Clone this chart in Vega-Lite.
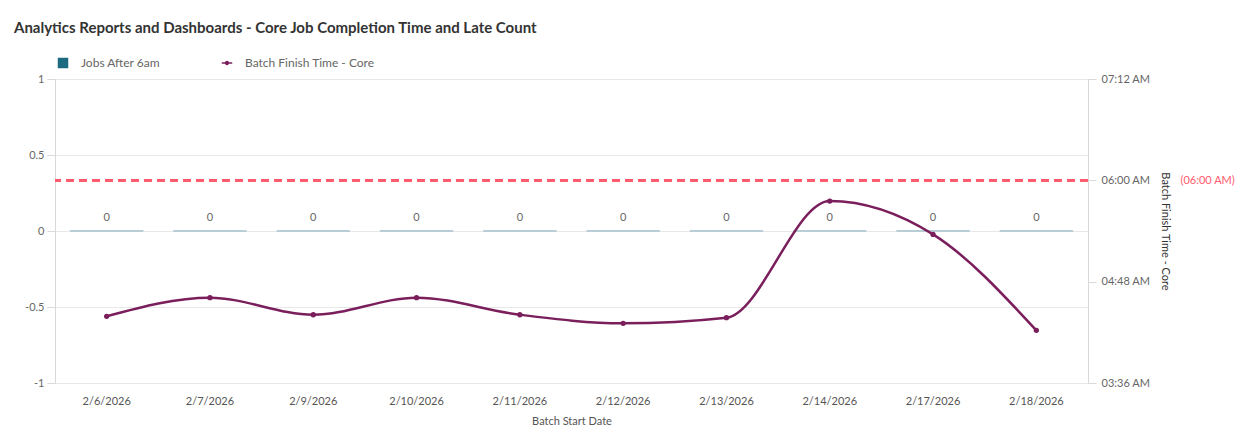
{
  "$schema": "https://vega.github.io/schema/vega-lite/v6.json",
  "width": 1033,
  "height": 304,
  "padding": {"left": 14, "top": 21, "right": 5, "bottom": 5},
  "background": "white",
  "title": {
    "text": "Analytics Reports and Dashboards - Core Job Completion Time and Late Count",
    "anchor": "start",
    "font": "Lato",
    "fontSize": 15,
    "fontWeight": "bold",
    "color": "#333333",
    "offset": 19
  },
  "data": {
    "values": [
      {"date": "2/6/2026", "jobs": 0, "finish_min": 263.4},
      {"date": "2/7/2026", "jobs": 0, "finish_min": 276.6},
      {"date": "2/9/2026", "jobs": 0, "finish_min": 264.5},
      {"date": "2/10/2026", "jobs": 0, "finish_min": 276.6},
      {"date": "2/11/2026", "jobs": 0, "finish_min": 264.5},
      {"date": "2/12/2026", "jobs": 0, "finish_min": 258.4},
      {"date": "2/13/2026", "jobs": 0, "finish_min": 262.4},
      {"date": "2/14/2026", "jobs": 0, "finish_min": 345.3},
      {"date": "2/17/2026", "jobs": 0, "finish_min": 321.6},
      {"date": "2/18/2026", "jobs": 0, "finish_min": 253.4}
    ]
  },
  "layer": [
    {
      "mark": {"type": "bar", "stroke": "#b9cdd6", "strokeWidth": 2},
      "encoding": {
        "x": {
          "field": "date",
          "type": "ordinal",
          "sort": null,
          "scale": {"paddingInner": 0.29, "paddingOuter": 0.145},
          "axis": {
            "title": "Batch Start Date",
            "labelAngle": 0,
            "ticks": false,
            "domain": false,
            "labelPadding": 12,
            "titlePadding": 9,
            "labelFontSize": 11,
            "labelColor": "#555555",
            "titleFontSize": 11,
            "titleFontWeight": "normal",
            "titleColor": "#555555"
          }
        },
        "y": {
          "field": "jobs",
          "type": "quantitative",
          "scale": {"domain": [-1, 1], "nice": false, "zero": false},
          "axis": {
            "title": null,
            "orient": "left",
            "values": [-1, -0.5, 0, 0.5, 1],
            "labelExpr": "'' + datum.value",
            "grid": true,
            "gridColor": "#e8e8e8",
            "domainColor": "#d8d8d8",
            "tickColor": "#d8d8d8",
            "tickSize": 8,
            "labelPadding": 3,
            "labelFontSize": 11,
            "labelColor": "#666666",
            "minExtent": 41
          }
        },
        "color": {
          "datum": "Jobs After 6am",
          "scale": {
            "domain": ["Jobs After 6am", "Batch Finish Time - Core"],
            "range": ["#1b6a80", "#7a1f5c"]
          },
          "legend": {
            "title": null,
            "orient": "top",
            "direction": "horizontal",
            "labelFontSize": 12,
            "labelColor": "#666666",
            "symbolSize": 110,
            "columnPadding": 60,
            "labelOffset": 12,
            "offset": 8,
            "padding": 2,
            "encode": {
              "symbols": {
                "update": {
                  "shape": {"signal": "datum.value === 'Jobs After 6am' ? 'square' : 'M-1,-0.12H-0.35V0.12H-1Z M0.35,-0.12H1V0.12H0.35Z M-0.42,0A0.42,0.42 0 1,1 0.42,0A0.42,0.42 0 1,1 -0.42,0Z'"},
                  "fill": {"signal": "datum.value === 'Jobs After 6am' ? '#1b6a80' : '#7a1f5c'"},
                  "stroke": {"value": "transparent"},
                  "strokeWidth": {"value": 0},
                  "opacity": {"value": 1}
                }
              }
            }
          }
        }
      }
    },
    {
      "mark": {"type": "text", "dy": -13, "fontSize": 11, "color": "#666666", "font": "Lato"},
      "encoding": {
        "x": {"field": "date", "type": "ordinal", "sort": null},
        "y": {
          "field": "jobs",
          "type": "quantitative",
          "scale": {"domain": [-1, 1], "nice": false, "zero": false},
          "axis": null
        },
        "text": {"field": "jobs", "type": "quantitative"}
      }
    },
    {
      "mark": {
        "type": "line",
        "interpolate": "monotone",
        "strokeWidth": 2.5,
        "point": {"filled": true, "size": 28}
      },
      "encoding": {
        "x": {"field": "date", "type": "ordinal", "sort": null},
        "y": {
          "field": "finish_min",
          "type": "quantitative",
          "scale": {"domain": [216, 432], "nice": false, "zero": false},
          "axis": {
            "title": "Batch Finish Time - Core",
            "orient": "right",
            "values": [216, 288, 360, 432],
            "labelExpr": "(floor(datum.value/60) < 10 ? '0' : '') + floor(datum.value/60) + ':' + (datum.value % 60 < 10 ? '0' : '') + (datum.value % 60) + ' AM'",
            "grid": false,
            "domainColor": "#d8d8d8",
            "tickColor": "#d8d8d8",
            "tickSize": 8,
            "labelPadding": 5,
            "labelFontSize": 11,
            "labelColor": "#666666",
            "titleFontSize": 11,
            "titleFontWeight": "normal",
            "titleColor": "#333333",
            "titlePadding": 10
          }
        },
        "color": {
          "datum": "Batch Finish Time - Core",
          "legend": {
            "title": null,
            "orient": "top",
            "direction": "horizontal",
            "labelFontSize": 12,
            "labelColor": "#666666",
            "symbolSize": 110,
            "columnPadding": 60,
            "labelOffset": 12,
            "offset": 8,
            "padding": 2,
            "encode": {
              "symbols": {
                "update": {
                  "shape": {"signal": "datum.value === 'Jobs After 6am' ? 'square' : 'M-1,-0.12H-0.35V0.12H-1Z M0.35,-0.12H1V0.12H0.35Z M-0.42,0A0.42,0.42 0 1,1 0.42,0A0.42,0.42 0 1,1 -0.42,0Z'"},
                  "fill": {"signal": "datum.value === 'Jobs After 6am' ? '#1b6a80' : '#7a1f5c'"},
                  "stroke": {"value": "transparent"},
                  "strokeWidth": {"value": 0},
                  "opacity": {"value": 1}
                }
              }
            }
          }
        }
      }
    },
    {
      "mark": {"type": "rule", "color": "#ff5a6e", "strokeWidth": 2, "strokeDash": [8, 5]},
      "encoding": {
        "y": {
          "datum": 360,
          "type": "quantitative",
          "scale": {"domain": [216, 432], "nice": false, "zero": false},
          "axis": {
            "title": null,
            "orient": "right",
            "offset": 92,
            "values": [360],
            "labelExpr": "'(06:00 AM)'",
            "grid": false,
            "domain": false,
            "ticks": false,
            "labelPadding": 0,
            "labelFontSize": 11,
            "labelColor": "#ff5a6e"
          }
        }
      }
    }
  ],
  "resolve": {"scale": {"y": "independent", "color": "shared"}},
  "config": {
    "font": "Lato",
    "view": {"stroke": null}
  }
}
